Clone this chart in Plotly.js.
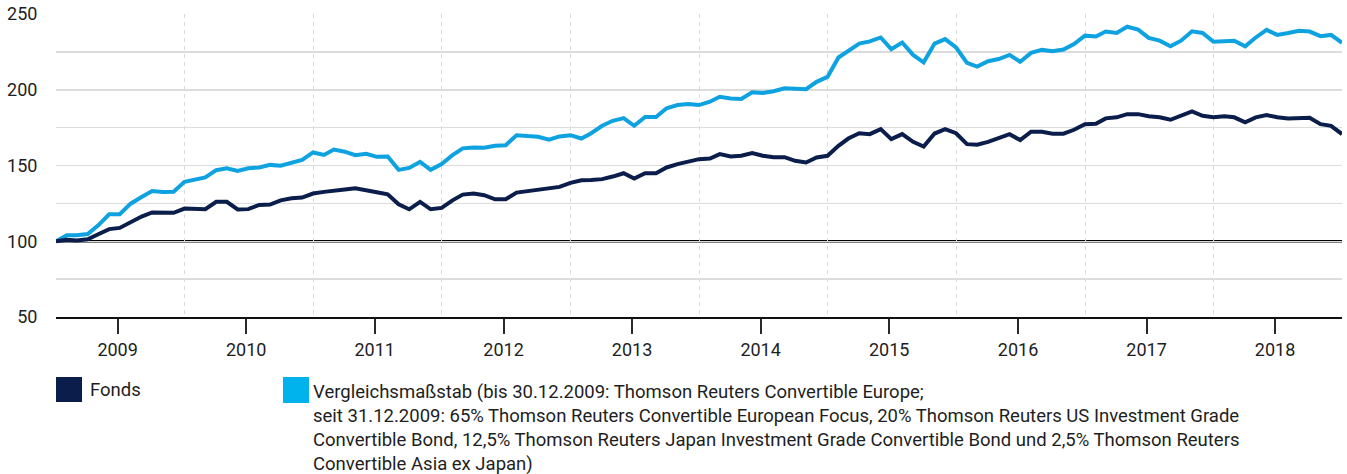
<!DOCTYPE html>
<html>
<head>
<meta charset="utf-8">
<script src="https://cdn.plot.ly/plotly-3.0.1.min.js"></script>
<style>
  html, body { margin: 0; padding: 0; background: #ffffff; }
  #chart { width: 1347px; height: 474px; }
</style>
</head>
<body>
<div id="chart"></div>
<script>
// ---------- DATA ----------
const startYear = 2008;   // first point: end of Dec 2008
const startMonth = 12;
const seriesNames = [
  "Fonds",
  "Vergleichsmaßstab (bis 30.12.2009: Thomson Reuters Convertible Europe;<br>seit 31.12.2009: 65% Thomson Reuters Convertible European Focus, 20% Thomson Reuters US Investment Grade<br>Convertible Bond, 12,5% Thomson Reuters Japan Investment Grade Convertible Bond und 2,5% Thomson Reuters<br>Convertible Asia ex Japan)"
];
const fonds = [
  100, 101, 100.5, 101.3, 104.6, 108, 108.8, 112.8, 116.3, 119, 119, 118.8,
  121.6, 121.6, 121.2, 126, 126, 121, 121.2, 124, 124.2, 127, 128.4, 128.8,
  131.5, 132.6, 133.6, 134.1, 135, 133.9, 132.4, 131, 124.4, 121.1, 126, 121.1,
  122, 127, 130.8, 131.5, 130.4, 127.7, 127.7, 132.1, 133, 134.1, 134.8, 135.9,
  138.5, 140.3, 140.4, 141, 142.7, 144.9, 141.4, 144.9, 144.9, 148.7, 150.9, 152.7,
  154.2, 154.6, 157.5, 155.9, 156.4, 158.2, 156.4, 155.5, 155.5, 153.1, 152, 155.3,
  156.4, 163, 167.8, 171.3, 170.7, 174, 167.4, 170.7, 165.6, 162.5, 171.1, 174,
  171.3, 164.1, 163.7, 165.6, 167.8, 170.7, 166.8, 172.3, 172.3, 171, 171, 173.6,
  177.3, 177.5, 181.1, 181.8, 183.9, 183.9, 182.5, 181.8, 180.2, 182.8, 185.7, 182.8,
  181.8, 182.5, 181.8, 178.5, 181.8, 183.3, 181.8, 181.1, 181.3, 181.5, 177.3, 176.2,
  170.7
];
const benchmark = [
  100, 103.9, 103.9, 104.8, 110.5, 117.8, 117.8, 124.8, 129.2, 133.2, 132.5, 132.7,
  139.2, 140.5, 142.1, 146.9, 148.2, 146.4, 148.2, 148.7, 150.4, 149.8, 151.5, 153.7,
  158.6, 157, 160.5, 159.1, 156.8, 157.7, 155.7, 155.9, 147.1, 148.4, 152.4, 147.1,
  150.9, 156.8, 161.3, 161.9, 161.7, 163, 163.4, 170, 169.4, 169, 167, 169.2,
  170, 167.8, 171.3, 176.2, 179.5, 181.3, 176.2, 182, 182, 187.8, 189.9, 190.6,
  189.9, 192.1, 195.4, 194.3, 193.9, 198.3, 197.9, 199, 201, 201, 200.4, 205.2,
  208.5, 221.3, 225.7, 230.5, 231.9, 234.5, 226.8, 231.2, 223, 218.1, 230.5, 233.4,
  227.9, 217.7, 215.3, 218.8, 220.3, 223, 218.5, 224.3, 226.3, 225.4, 226.5, 230.2,
  235.7, 235.1, 238.4, 237.5, 241.6, 239.7, 234.2, 232.4, 228.7, 232.4, 238.6, 237.5,
  231.7, 231.9, 232.4, 228.7, 234.5, 239.5, 236.2, 237.5, 239, 238.4, 235.4, 236.2,
  231
];
const years = [2009, 2010, 2011, 2012, 2013, 2014, 2015, 2016, 2017, 2018];
const yTickValues = [50, 100, 150, 200, 250];
const baseline = 100;

// ---------- BUILD ----------
function pad(n) { return (n < 10 ? "0" : "") + n; }
function monthEnd(y, m) { // m: 1..12
  const d = new Date(Date.UTC(y, m, 0));
  return d.getUTCFullYear() + "-" + pad(d.getUTCMonth() + 1) + "-" + pad(d.getUTCDate());
}
const dates = [];
for (let k = 0; k < fonds.length; k++) {
  const t = startMonth - 1 + k;
  dates.push(monthEnd(startYear + Math.floor(t / 12), (t % 12) + 1));
}
const tickVals = years.map(y => y + "-06-24");
const tickText = years.map(String);
const yearStarts = years.slice(1).map(y => y + "-01-01");

const W = 1347, H = 474;
const M = { l: 56, r: 5, t: 14, b: 157 };
const PW = W - M.l - M.r, PH = H - M.t - M.b;
const px = x => (x - M.l) / PW;
const py = y => (H - M.b - y) / PH;

const navy = "#0b1d4a";
const sky = "#0ea2e1";
const textColor = "#1e1e1e";
const fontFamily = "Roboto, 'Liberation Sans', Arial, sans-serif";
const fs = 18.5;

const traces = [
  { x: dates, y: benchmark, type: "scatter", mode: "lines", name: seriesNames[1],
    line: { color: sky, width: 4, shape: "linear" }, hoverinfo: "skip" },
  { x: dates, y: fonds, type: "scatter", mode: "lines", name: seriesNames[0],
    line: { color: navy, width: 4, shape: "linear" }, hoverinfo: "skip" }
];

const layout = {
  width: W, height: H,
  margin: M,
  paper_bgcolor: "#ffffff",
  plot_bgcolor: "#ffffff",
  showlegend: false,
  font: { family: fontFamily, size: fs, color: textColor },
  xaxis: {
    type: "date",
    range: [dates[0], dates[dates.length - 1]],
    tickmode: "array", tickvals: tickVals, ticktext: tickText,
    ticks: "outside", ticklen: 15, tickwidth: 2, tickcolor: "#2a2a2a",
    showline: true, linecolor: "#111111", linewidth: 2,
    showgrid: false, zeroline: false,
    tickfont: { family: fontFamily, size: 18, color: textColor },
    minor: {
      tickmode: "array", tickvals: yearStarts,
      showgrid: true, gridcolor: "#dadada", gridwidth: 1, griddash: "4px,4px",
      ticks: ""
    },
    fixedrange: true
  },
  yaxis: {
    range: [50, 250],
    tickmode: "array", tickvals: yTickValues,
    showgrid: true, gridcolor: "#dcdcdc", gridwidth: 1.5,
    minor: { dtick: 25, tick0: 50, showgrid: true, gridcolor: "#dcdcdc", gridwidth: 1.5, ticks: "" },
    zeroline: false, showline: false,
    ticks: "outside", ticklen: 14, tickcolor: "rgba(0,0,0,0)",
    tickfont: { family: fontFamily, size: 18, color: textColor },
    fixedrange: true
  },
  shapes: [
    { type: "line", xref: "paper", yref: "y", x0: 0, x1: 1, y0: baseline, y1: baseline,
      line: { color: "#000000", width: 2.5 }, layer: "between" },
    { type: "rect", xref: "paper", yref: "paper",
      x0: px(56), x1: px(82), y0: py(402), y1: py(377),
      fillcolor: navy, line: { width: 0 } },
    { type: "rect", xref: "paper", yref: "paper",
      x0: px(283), x1: px(309), y0: py(403), y1: py(377),
      fillcolor: "#00b3ec", line: { width: 0 } }
  ],
  annotations: [
    { xref: "paper", yref: "paper", x: px(88), y: py(390),
      xanchor: "left", yanchor: "middle", showarrow: false, align: "left",
      text: seriesNames[0], font: { family: fontFamily, size: fs, color: textColor } },
    { xref: "paper", yref: "paper", x: px(311), y: py(379),
      xanchor: "left", yanchor: "top", showarrow: false, align: "left",
      text: seriesNames[1], font: { family: fontFamily, size: fs, color: textColor } }
  ]
};

Plotly.newPlot("chart", traces, layout, { displayModeBar: false, staticPlot: true });
</script>
</body>
</html>
